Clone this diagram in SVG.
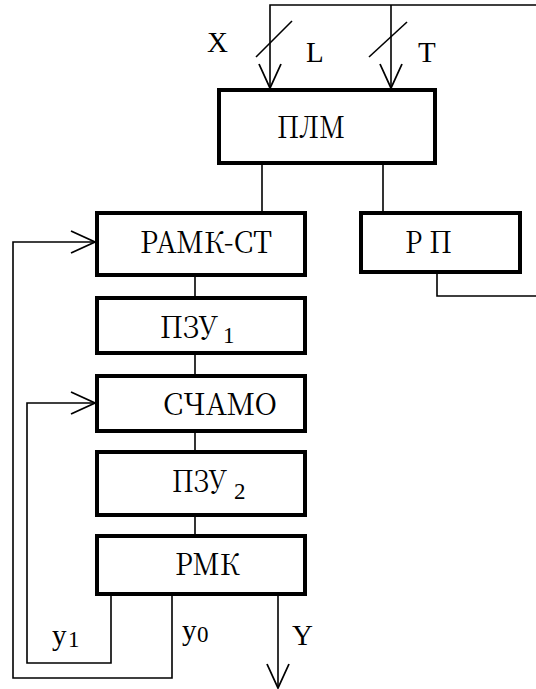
<svg xmlns="http://www.w3.org/2000/svg" width="536" height="689" viewBox="0 0 536 689">
<style>
.box{fill:#fff;stroke:#000;stroke-width:4}
.lbl{font-family:"Noto Serif CJK SC","Liberation Serif","DejaVu Serif",serif;font-size:30px;fill:#000}
.sub{font-family:"Liberation Serif","Noto Serif CJK SC",serif;font-size:23px;fill:#000}
.sm{font-family:"Liberation Serif","Times New Roman",serif;font-size:29px;fill:#000}
.ln{fill:none;stroke:#000;stroke-width:1.6}
</style>
<defs>
<marker id="arr" markerUnits="userSpaceOnUse" markerWidth="30" markerHeight="30" viewBox="-26 -13 30 26" refX="0" refY="0" orient="auto">
<path d="M-24,-11 L0,0 L-24,11" fill="none" stroke="#000" stroke-width="1.8"/>
</marker>
</defs>
<rect width="536" height="689" fill="#fff"/>
<g id="connectors">
<path class="ln" d="M536,5 H270 V88" marker-end="url(#arr)"/>
<path class="ln" d="M391,5 V88" marker-end="url(#arr)"/>
<path class="ln" d="M256,57 L292,21"/>
<path class="ln" d="M369,57 L407,22"/>
<path class="ln" d="M262,165 V211"/>
<path class="ln" d="M383,165 V211"/>
<path class="ln" d="M437,274 V296 H536"/>
<path class="ln" d="M195,277 V296"/>
<path class="ln" d="M195,355 V374"/>
<path class="ln" d="M195,433 V450"/>
<path class="ln" d="M195,517 V534"/>
<path class="ln" d="M111,596 V663 H27 V403 H95" marker-end="url(#arr)"/>
<path class="ln" d="M172,596 V678 H13 V242 H95" marker-end="url(#arr)"/>
<path class="ln" d="M278,596 V688" marker-end="url(#arr)"/>
<text class="sm" x="207" y="52" font-size="26">X</text>
<text class="sm" x="306" y="62">L</text>
<text class="sm" x="418" y="62">T</text>
<text class="sm" x="52" y="645" font-size="32">y</text>
<text class="sub" x="68" y="647" font-size="24">1</text>
<text class="sm" x="182" y="640" font-size="32">y</text>
<text class="sub" x="197" y="642" font-size="24">0</text>
<text class="sm" x="292" y="645" font-size="32">Y</text>
</g>
<g id="plm"><rect class="box" x="219" y="90" width="216" height="73"/><text class="lbl" x="277" y="138" textLength="68" lengthAdjust="spacingAndGlyphs">ПЛМ</text></g>
<g id="ramk"><rect class="box" x="97" y="213" width="208" height="62"/><text class="lbl" x="140" y="253" textLength="132" lengthAdjust="spacingAndGlyphs">РАМК-СТ</text></g>
<g id="rp"><rect class="box" x="361" y="213" width="159" height="59"/><text class="lbl" x="405" y="253" textLength="47" lengthAdjust="spacingAndGlyphs">Р П</text></g>
<g id="pzu1"><rect class="box" x="97" y="298" width="208" height="55"/><text class="lbl" x="160" y="338" textLength="58" lengthAdjust="spacingAndGlyphs">ПЗУ</text><text class="sub" x="223" y="343" font-size="21">1</text></g>
<g id="schamo"><rect class="box" x="97" y="376" width="208" height="55"/><text class="lbl" x="163" y="415" textLength="114" lengthAdjust="spacingAndGlyphs">СЧАМО</text></g>
<g id="pzu2"><rect class="box" x="97" y="452" width="208" height="63"/><text class="lbl" x="172" y="492" textLength="55" lengthAdjust="spacingAndGlyphs">ПЗУ</text><text class="sub" x="234" y="499" font-size="22">2</text></g>
<g id="rmk"><rect class="box" x="97" y="536" width="208" height="58"/><text class="lbl" x="175" y="575" textLength="65" lengthAdjust="spacingAndGlyphs">РМК</text></g>
</svg>
